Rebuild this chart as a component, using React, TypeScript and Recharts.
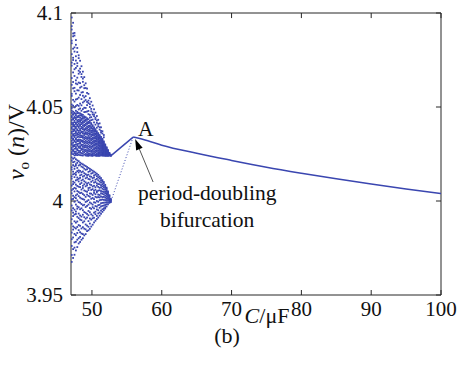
import { ComposedChart, Line, ReferenceDot, ReferenceLine, Scatter, XAxis, YAxis } from 'recharts'

// chaotic region: C columns (uF) and the v_o values read in each column (mV above 4 V)
const cloudC = [
  47.1, 47.3, 47.5, 47.7, 47.9, 48.1, 48.3, 48.5, 48.7, 48.9, 49.1, 49.3, 49.5, 49.7, 49.9,
  50.1, 50.3, 50.5, 50.7, 50.9, 51.1, 51.3, 51.5, 51.7, 51.9, 52.1, 52.3, 52.5, 52.7,
]
const cloudMv: number[][] = [
  [97.6, 93.0, 91.2, 85.3, 83.9, 78.1, 73.6, 72.0, 65.4, 61.8, 57.0, 55.9, 51.3, 49.4, 48.1, 46.9, 45.2, 44.6, 43.1, 41.8, 40.9, 39.2, 38.5, 36.8, 36.0, 34.3, 33.5, 32.0, 30.7, 30.0, 28.3, 27.5, 26.0, 25.1, 23.2, 21.5, 18.0, 16.8, 13.1, 11.9, 8.2, 5.7, 4.1, 0.9, -2.4, -5.0, -9.7, -12.1, -16.8, -20.3, -23.9, -28.7, -32.4],
  [94.8, 89.1, 87.6, 81.0, 76.2, 75.0, 68.4, 63.3, 59.9, 53.8, 50.7, 47.5, 46.2, 45.9, 44.0, 43.4, 41.5, 40.6, 39.8, 38.0, 37.1, 35.5, 34.8, 33.1, 32.6, 31.0, 29.6, 28.9, 27.1, 26.6, 24.9, 22.5, 20.6, 19.1, 15.6, 14.2, 10.3, 9.0, 6.4, 2.8, 1.1, -3.8, -6.2, -8.0, -13.5, -15.2, -19.4, -25.6, -30.3],
  [89.4, 88.0, 81.7, 79.5, 72.9, 70.1, 66.5, 60.2, 58.4, 52.9, 49.8, 47.0, 46.5, 44.9, 44.2, 42.7, 41.9, 40.4, 39.5, 38.2, 37.4, 35.8, 34.6, 33.9, 32.2, 31.6, 29.8, 29.2, 27.8, 26.3, 25.5, 24.3, 23.0, 20.9, 18.4, 17.1, 14.5, 12.7, 9.8, 7.0, 5.1, 2.0, -0.4, -4.6, -7.2, -10.8, -14.1, -17.5, -22.0, -24.8, -28.6],
  [85.6, 83.1, 77.0, 74.7, 70.8, 64.2, 62.5, 57.1, 54.0, 50.5, 48.0, 46.4, 45.6, 44.3, 43.5, 41.6, 41.0, 39.4, 38.7, 37.0, 36.2, 35.0, 33.3, 32.8, 31.3, 30.1, 28.7, 27.9, 26.2, 25.2, 24.5, 22.2, 19.6, 18.8, 15.1, 13.9, 11.0, 8.7, 6.6, 3.0, 1.5, -1.9, -5.6, -6.9, -11.5, -14.6, -18.2, -21.7, -26.3],
  [81.4, 79.2, 73.3, 71.8, 65.6, 62.1, 58.9, 54.3, 51.1, 47.4, 46.7, 45.0, 44.5, 42.9, 42.0, 40.6, 39.9, 38.1, 37.6, 36.0, 35.2, 34.0, 32.4, 31.8, 30.3, 29.4, 27.6, 27.0, 25.4, 24.4, 21.6, 20.3, 17.6, 15.9, 12.5, 11.3, 8.0, 5.3, 3.6, 0.3, -2.9, -4.1, -8.4, -10.9, -13.8, -17.0, -20.6, -24.5],
  [77.5, 76.0, 69.3, 67.7, 63.0, 58.8, 55.0, 50.6, 48.7, 46.8, 45.4, 44.7, 43.2, 42.2, 41.1, 39.7, 39.0, 37.3, 36.4, 35.3, 34.2, 32.7, 31.9, 30.5, 29.0, 28.4, 26.7, 25.8, 24.6, 21.2, 18.9, 16.3, 15.2, 11.8, 10.4, 7.6, 4.8, 2.6, -0.6, -3.3, -6.7, -9.1, -12.8, -15.5, -19.8, -22.6],
  [74.6, 70.4, 68.6, 62.7, 60.3, 56.4, 51.8, 49.2, 46.6, 45.6, 44.3, 43.0, 42.1, 40.7, 40.0, 38.3, 37.5, 36.1, 35.0, 33.9, 32.5, 31.3, 30.6, 29.1, 28.2, 26.6, 25.7, 24.4, 20.4, 19.2, 16.0, 13.6, 12.3, 9.0, 7.4, 4.2, 1.8, -0.9, -4.4, -7.7, -9.9, -13.2, -16.6, -19.1, -21.8],
  [71.7, 67.5, 66.0, 60.8, 57.7, 54.2, 50.9, 48.0, 46.2, 45.3, 43.9, 43.1, 41.7, 40.9, 39.4, 38.6, 37.0, 36.5, 34.8, 34.0, 32.3, 31.7, 30.0, 29.5, 27.9, 27.2, 25.5, 24.3, 19.9, 18.3, 15.3, 14.0, 10.9, 9.6, 6.1, 4.4, 1.3, -1.6, -3.9, -8.3, -10.2, -14.6, -17.3, -20.6],
  [68.8, 65.1, 63.4, 57.9, 56.0, 52.4, 48.9, 45.8, 44.7, 43.8, 42.3, 41.5, 40.2, 39.1, 38.2, 36.8, 35.9, 34.5, 33.6, 32.1, 31.4, 29.9, 28.8, 27.6, 26.4, 25.3, 24.2, 19.5, 17.9, 15.7, 13.0, 11.4, 8.1, 6.9, 3.7, 1.0, -2.3, -4.9, -7.3, -11.4, -13.9, -17.6, -19.8],
  [65.9, 61.6, 60.0, 55.1, 53.0, 49.6, 47.3, 45.0, 44.2, 42.9, 42.0, 40.5, 39.8, 38.2, 37.4, 36.0, 35.1, 33.8, 32.9, 31.5, 30.6, 29.3, 28.4, 27.1, 26.0, 24.7, 19.0, 17.2, 14.8, 13.4, 10.5, 8.9, 5.6, 3.1, 0.7, -2.0, -5.9, -8.6, -10.8, -14.7, -18.3],
  [62.6, 60.1, 55.8, 53.7, 49.5, 47.4, 44.6, 43.4, 42.6, 41.1, 40.3, 38.8, 38.0, 36.6, 35.7, 34.2, 33.3, 32.0, 31.0, 29.7, 28.7, 27.3, 26.5, 25.0, 24.2, 18.6, 16.6, 14.3, 12.1, 9.9, 7.8, 5.2, 2.2, -0.5, -3.2, -6.3, -9.4, -12.5, -15.1, -17.6],
  [59.8, 57.5, 52.7, 51.0, 47.6, 44.0, 43.2, 41.8, 41.0, 39.5, 38.6, 37.5, 36.2, 35.4, 33.8, 33.0, 31.6, 30.7, 29.3, 28.3, 27.0, 26.0, 24.9, 24.1, 18.1, 16.9, 13.8, 12.6, 9.2, 8.3, 4.9, 3.4, -0.1, -2.6, -6.9, -8.8, -13.1, -16.0],
  [57.0, 53.4, 52.1, 47.9, 46.2, 43.5, 42.1, 41.4, 40.0, 39.2, 37.9, 36.9, 35.8, 34.6, 33.5, 32.3, 31.2, 30.1, 28.9, 27.7, 26.6, 25.4, 24.5, 24.0, 17.6, 15.5, 14.0, 11.7, 9.7, 6.9, 5.8, 2.7, 0.5, -1.9, -5.3, -7.6, -10.7, -13.7, -15.6],
  [54.7, 51.5, 50.0, 45.8, 44.4, 42.6, 41.6, 40.1, 39.5, 38.3, 37.3, 36.1, 35.3, 33.9, 33.0, 31.8, 30.9, 29.4, 28.6, 27.3, 26.4, 25.1, 24.3, 17.1, 15.9, 13.1, 11.5, 8.8, 7.1, 4.0, 2.3, -0.8, -3.7, -6.0, -9.3, -12.0, -14.8],
  [52.8, 49.0, 47.7, 44.6, 43.0, 41.4, 40.6, 39.3, 38.7, 37.4, 36.6, 35.4, 34.5, 33.2, 32.4, 31.1, 30.3, 29.0, 28.1, 26.8, 26.1, 24.9, 24.1, 16.6, 14.6, 12.9, 10.2, 8.5, 5.9, 3.9, 1.2, -1.3, -4.2, -7.1, -9.9, -13.6],
  [50.8, 47.1, 46.0, 43.3, 40.3, 39.6, 38.5, 37.7, 36.7, 35.6, 34.9, 33.6, 32.9, 31.7, 30.8, 29.6, 28.8, 27.4, 26.6, 25.5, 24.6, 24.0, 16.1, 14.9, 12.2, 10.9, 7.7, 6.3, 3.2, 1.6, -1.9, -3.3, -7.8, -9.2, -12.6],
  [48.8, 46.0, 45.1, 41.8, 39.2, 38.5, 37.7, 36.8, 35.8, 35.0, 33.9, 33.2, 32.0, 31.3, 30.2, 29.4, 28.1, 27.3, 26.2, 25.3, 24.4, 15.6, 13.6, 12.5, 9.8, 8.1, 5.4, 4.3, 1.0, -0.7, -3.9, -6.2, -8.9, -11.4],
  [47.0, 44.3, 43.5, 40.6, 38.2, 37.5, 36.9, 35.9, 35.2, 34.1, 33.4, 32.3, 31.5, 30.5, 29.8, 28.6, 27.8, 26.7, 25.9, 24.8, 24.1, 15.1, 14.0, 11.3, 10.1, 7.3, 6.0, 3.6, 2.2, -0.9, -2.7, -5.7, -7.0, -10.5],
  [45.2, 42.8, 41.6, 39.0, 37.1, 36.4, 35.7, 34.9, 34.1, 33.3, 32.5, 31.7, 30.7, 29.9, 28.9, 28.1, 27.1, 26.4, 25.3, 24.6, 24.0, 14.5, 13.2, 11.8, 9.4, 8.2, 5.2, 4.6, 1.9, 0.0, -3.0, -4.5, -7.9, -9.6],
  [43.2, 41.0, 39.8, 36.1, 35.4, 34.8, 34.0, 33.4, 32.6, 31.8, 31.0, 30.3, 29.4, 28.5, 27.8, 26.9, 26.0, 25.2, 24.5, 24.0, 13.9, 12.6, 11.0, 9.0, 7.5, 5.5, 3.4, 2.1, -0.4, -2.2, -4.9, -6.6, -8.8],
  [41.3, 39.2, 38.0, 35.1, 34.5, 33.8, 33.2, 32.4, 31.8, 31.0, 30.4, 29.6, 28.9, 28.1, 27.4, 26.6, 25.8, 25.1, 24.4, 24.0, 13.0, 12.0, 10.3, 8.9, 7.0, 5.7, 3.2, 1.9, 0.4, -2.0, -3.6, -6.1, -7.8],
  [39.2, 37.3, 36.4, 34.1, 33.5, 32.9, 32.3, 31.6, 31.0, 30.4, 29.7, 29.0, 28.4, 27.7, 27.0, 26.3, 25.6, 24.9, 24.3, 12.2, 11.1, 9.9, 8.4, 7.3, 5.3, 4.1, 2.4, 0.6, -1.2, -2.9, -5.1, -6.8],
  [37.1, 35.9, 33.1, 32.6, 32.0, 31.5, 30.9, 30.3, 29.7, 29.1, 28.5, 27.9, 27.2, 26.6, 25.9, 25.3, 24.7, 24.1, 11.1, 10.2, 9.0, 7.8, 6.5, 5.0, 3.8, 2.1, 0.8, -1.0, -2.6, -4.4, -5.8],
  [35.1, 33.9, 31.7, 31.2, 30.7, 30.2, 29.6, 29.1, 28.6, 28.0, 27.5, 26.9, 26.3, 25.8, 25.2, 24.6, 24.1, 10.1, 9.3, 8.2, 7.3, 6.1, 4.8, 3.5, 2.2, 0.6, -0.9, -2.4, -3.9, -4.9],
  [30.1, 29.7, 29.2, 28.8, 28.3, 27.8, 27.4, 26.9, 26.4, 25.9, 25.4, 24.9, 24.4, 24.0, 8.6, 7.9, 7.0, 6.2, 5.1, 4.2, 2.9, 1.8, 0.5, -0.8, -2.1, -3.3, -4.0],
  [28.6, 28.2, 27.8, 27.4, 27.0, 26.5, 26.1, 25.7, 25.2, 24.8, 24.3, 24.0, 7.1, 6.5, 5.8, 5.0, 4.2, 3.4, 2.5, 1.5, 0.5, -0.6, -1.7, -2.9],
  [27.1, 26.7, 26.3, 25.9, 25.5, 25.1, 24.7, 24.3, 24.0, 5.1, 4.6, 4.0, 3.4, 2.7, 1.9, 1.1, 0.2, -0.8, -1.8],
  [25.6, 25.3, 25.0, 24.7, 24.4, 24.1, 3.1, 2.7, 2.2, 1.6, 1.0, 0.4, -0.3, -1.0],
  [24.6, 24.3, 24.0, 1.1, 0.7, 0.3, -0.2, -0.6],
]

// period-2 branches meeting at point A
const upperC = [52.7, 55.9]
const upperV = [4.024, 4.034]
const lowerC = [52.75, 55.9]
const lowerV = [4.0002, 4.034]

// period-1 solution
const mainC = [55.9, 58, 60, 65, 70, 75, 80, 85, 90, 95, 100]
const mainV = [4.034, 4.032, 4.0297, 4.0254, 4.0216, 4.018, 4.0148, 4.0118, 4.009, 4.0064, 4.004]

const xTicks = [50, 60, 70, 80, 90, 100]
const yTicks = [3.95, 4, 4.05, 4.1]
const X_DOMAIN = [47, 100]
const Y_DOMAIN = [3.95, 4.1]

const cloud = cloudC.flatMap((c, i) => cloudMv[i].map((mv) => ({ c, v: 4 + mv / 1000 })))
const pairs = (cs: number[], vs: number[]) => cs.map((c, i) => ({ c, v: vs[i] }))
const upper = pairs(upperC, upperV)
const lower = pairs(lowerC, lowerV)
const main = pairs(mainC, mainV)

const BLUE = '#3a46b0'
const FONT = 'Liberation Serif, Times New Roman, Times, serif'
const AXIS = '#262626'
// inward tick length on the top / right frame, in data units (about 5 px)
const TICK_DX = 0.72
const TICK_DY = 0.0027

const Pixel = (p: any) => <rect x={p.cx - 0.9} y={p.cy - 0.9} width={1.8} height={1.8} fill={BLUE} />

const textAt = (content: string, anchor: 'start' | 'middle' = 'start') => (p: any) => (
  <text x={p.cx} y={p.cy} textAnchor={anchor} style={{ fontFamily: FONT, fontSize: 21.5 }} fill="#111">
    {content}
  </text>
)

const Arrow = (p: any) => {
  const { x1, y1, x2, y2 } = p
  const dx = x2 - x1
  const dy = y2 - y1
  const len = Math.hypot(dx, dy) || 1
  const ux = dx / len
  const uy = dy / len
  const bx = x2 - ux * 11
  const by = y2 - uy * 11
  const pts = `${x2},${y2} ${bx - uy * 3.5},${by + ux * 3.5} ${bx + uy * 3.5},${by - ux * 3.5}`
  return (
    <g>
      <line x1={x1} y1={y1} x2={bx} y2={by} stroke="#555" strokeWidth={1} />
      <polygon points={pts} fill="#000" />
    </g>
  )
}

const XTitle = (p: any) => {
  const { x, y, width } = p.viewBox
  const cx = x + width / 2
  return (
    <g style={{ fontFamily: FONT, fontSize: 22 }} fill="#111">
      <text x={cx + 11} y={y + 28} textAnchor="middle">
        <tspan fontStyle="italic">C</tspan>
        <tspan>/μF</tspan>
      </text>
      <text x={cx - 29} y={y + 48} textAnchor="middle">
        (b)
      </text>
    </g>
  )
}

const YTitle = (p: any) => {
  const { y, height } = p.viewBox
  const cy = y + height / 2 - 12
  return (
    <text x={24} y={cy} transform={`rotate(-90, 24, ${cy})`} textAnchor="middle" style={{ fontFamily: FONT, fontSize: 24 }} fill="#111">
      <tspan fontStyle="italic">v</tspan>
      <tspan fontSize={15} dy={5}>o</tspan>
      <tspan dy={-5}> (</tspan>
      <tspan fontStyle="italic">n</tspan>
      <tspan>)/V</tspan>
    </text>
  )
}

export default function App() {
  const tickStyle = { fill: '#111', fontSize: 21, fontFamily: FONT }
  return (
    <div style={{ position: 'absolute', left: 0, top: 0, background: '#fff', fontFamily: FONT }}>
      <ComposedChart width={460} height={379} margin={{ top: 13, right: 19, left: 0, bottom: 0 }}>
        <XAxis
          dataKey="c"
          type="number"
          domain={X_DOMAIN}
          ticks={xTicks}
          allowDataOverflow
          height={84}
          tickSize={-5}
          tickMargin={11}
          tick={tickStyle}
          stroke={AXIS}
          label={<XTitle />}
        />
        <YAxis
          dataKey="v"
          type="number"
          domain={Y_DOMAIN}
          ticks={yTicks}
          allowDataOverflow
          width={71}
          tickSize={-5}
          tickMargin={13}
          tick={tickStyle}
          stroke={AXIS}
          label={<YTitle />}
        />
        {/* top and right frame with inward ticks */}
        <ReferenceLine y={Y_DOMAIN[1]} stroke={AXIS} ifOverflow="visible" />
        <ReferenceLine x={X_DOMAIN[1]} stroke={AXIS} ifOverflow="visible" />
        {xTicks.map((t) => (
          <ReferenceLine
            key={`tx${t}`}
            segment={[{ x: t, y: Y_DOMAIN[1] }, { x: t, y: Y_DOMAIN[1] - TICK_DY }]}
            stroke={AXIS}
            ifOverflow="visible"
          />
        ))}
        {yTicks.map((t) => (
          <ReferenceLine
            key={`ty${t}`}
            segment={[{ x: X_DOMAIN[1], y: t }, { x: X_DOMAIN[1] - TICK_DX, y: t }]}
            stroke={AXIS}
            ifOverflow="visible"
          />
        ))}
        <Scatter data={cloud} dataKey="v" shape={Pixel} isAnimationActive={false} />
        <Line data={lower} dataKey="v" type="linear" stroke={BLUE} strokeWidth={1} strokeDasharray="1 2" dot={false} isAnimationActive={false} />
        <Line data={upper} dataKey="v" type="linear" stroke={BLUE} strokeWidth={1.5} dot={false} isAnimationActive={false} />
        <Line data={main} dataKey="v" type="monotone" stroke={BLUE} strokeWidth={1.5} dot={false} isAnimationActive={false} />
        <ReferenceLine segment={[{ x: 58.76, y: 4.0101 }, { x: 56.19, y: 4.033 }]} shape={Arrow} />
        <ReferenceDot x={56.6} y={4.0346} shape={textAt('A')} />
        <ReferenceDot x={56.6} y={4.0005} shape={textAt('period-doubling')} />
        <ReferenceDot x={66.5} y={3.9862} shape={textAt('bifurcation', 'middle')} />
      </ComposedChart>
    </div>
  )
}
